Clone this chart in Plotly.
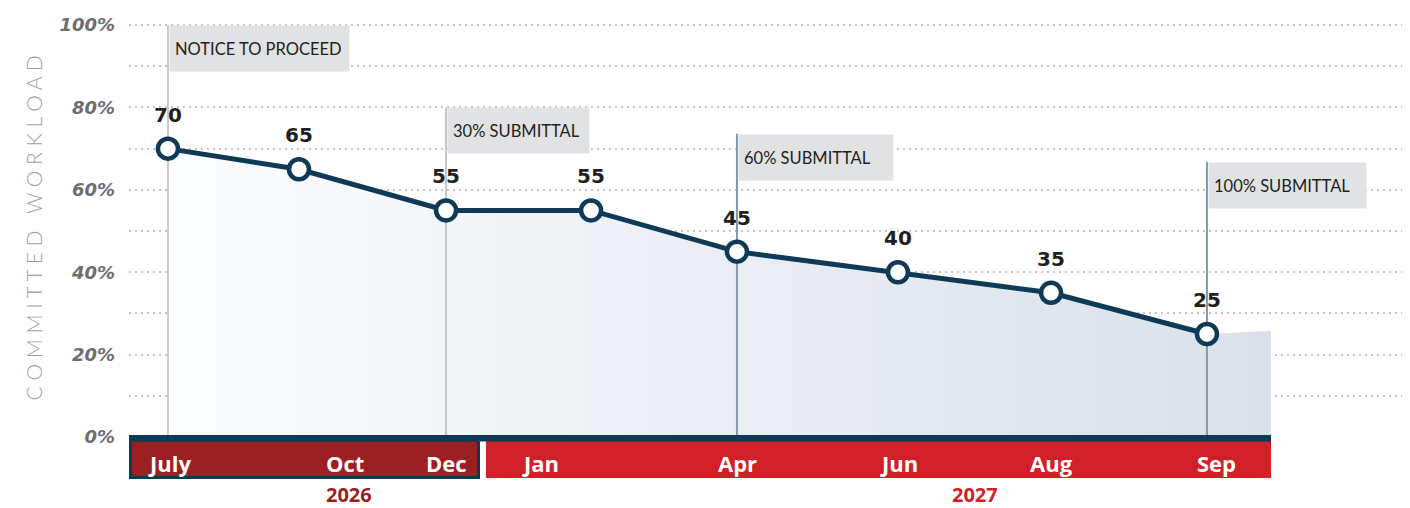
import plotly.graph_objects as go

# ---------------- data ----------------
# horizontal timeline position of each point (0-100 scale across the plot)
point_pos = [3.04, 13.27, 24.75, 36.07, 47.46, 60.03, 71.98, 84.15]
workload = [70, 65, 55, 55, 45, 40, 35, 25]

# shaded area continues slightly past the last point
area_pos = point_pos + [89.15]
area_vals = workload + [25.8]

# months on the timeline band
month_labels = ["July", "Oct", "Dec", "Jan", "Apr", "Jun", "Aug", "Sep"]
month_tick_pos = [3.04, 16.71, 24.75, 32.16, 47.46, 60.03, 71.98, 84.15]
month_label_pos = [3.2, 16.9, 24.75, 32.16, 47.5, 60.1, 72.0, 84.86]

years = ["2026", "2027"]
year_label_pos = [17.17, 66.04]
year_span_start = [0.0, 27.87]
year_span_end = [27.4, 89.15]

# milestones
milestones = ["NOTICE TO PROCEED", "30% SUBMITTAL", "60% SUBMITTAL", "100% SUBMITTAL"]
milestone_pos = [3.04, 24.75, 47.46, 84.15]
milestone_top = [100, 80, 73.6, 66.8]
milestone_box_w = [179, 141, 154, 157]
milestone_line_col = ["#c9cacc", "#c4c6c9", "#8598aa", "#8598aa"]

y_ticks = list(range(0, 101, 10))
y_ticktext = [f"{v}%" if v % 20 == 0 else "" for v in y_ticks]

# ---------------- styles ----------------
NAVY = "#0f3a57"
DARK_RED = "#9c1f22"
RED = "#d12028"
OFF = 8                      # page body margin
W, H = 1410 - OFF, 508 - OFF
L, T, B = 129 - OFF, 23 - OFF, 71
plot_h = H - T - B
Y_MAX = 100.5
BASE = 437                   # page pixel row of the 0 line

def py(pix):
    """page pixel row -> paper y"""
    return (BASE - pix) / plot_h

def px(pix):
    """page pixel column -> paper x"""
    return (pix - 129) / (W - L)

fig = go.Figure()

# shaded area with horizontal gradient
fig.add_trace(go.Scatter(
    x=area_pos, y=area_vals, mode="lines", line=dict(width=0),
    fill="tozeroy",
    fillgradient=dict(type="horizontal",
                      colorscale=[[0, "#fbfcfd"], [1, "#dae1ea"]]),
    hoverinfo="skip", showlegend=False,
))

# milestone vertical lines
for xp, top, col in zip(milestone_pos, milestone_top, milestone_line_col):
    fig.add_trace(go.Scatter(
        x=[xp, xp], y=[0, top], mode="lines",
        line=dict(color=col, width=2), hoverinfo="skip", showlegend=False,
    ))

# main line with markers
fig.add_trace(go.Scatter(
    x=point_pos, y=workload, mode="lines+markers",
    line=dict(color=NAVY, width=5),
    marker=dict(size=20, color="white", line=dict(color=NAVY, width=4.5)),
    showlegend=False, cliponaxis=False,
))

# value labels
for xp, v in zip(point_pos, workload):
    fig.add_annotation(x=xp, y=v, text=str(v), showarrow=False, yshift=34,
                       font=dict(family="DejaVu Sans", size=20, color="#231f20",
                                 weight="bold"))

# milestone boxes
for name, xp, top, bw in zip(milestones, milestone_pos, milestone_top, milestone_box_w):
    fig.add_annotation(x=xp, y=top, xref="x", yref="y", text=name, showarrow=False,
                       xanchor="left", yanchor="top", xshift=1,
                       width=bw - 10, height=45 - 10, borderpad=5,
                       align="left", valign="middle", bgcolor="#e1e2e4",
                       font=dict(family="Lato", size=16.5, color="#231f20"))

# timeline band shapes
fig.add_shape(type="rect", xref="paper", yref="paper",
              x0=px(130.5), x1=px(478.5),
              y0=py(477.5), y1=py(440),
              fillcolor=DARK_RED, line=dict(color=NAVY, width=3), layer="above")
fig.add_shape(type="rect", xref="paper", yref="paper",
              x0=year_span_start[1] / 100, x1=year_span_end[1] / 100,
              y0=py(478), y1=py(441),
              fillcolor=RED, line=dict(width=0), layer="above")
fig.add_shape(type="rect", xref="paper", yref="paper",
              x0=0, x1=year_span_end[1] / 100,
              y0=py(441.5), y1=py(435),
              fillcolor=NAVY, line=dict(width=0), layer="above")

# tick dots on the band
fig.add_trace(go.Scatter(
    x=month_tick_pos, y=[-0.25] * len(month_tick_pos), mode="markers",
    marker=dict(size=8, color=NAVY), cliponaxis=False,
    hoverinfo="skip", showlegend=False,
))

# month labels
for m, xp in zip(month_labels, month_label_pos):
    fig.add_annotation(x=xp, y=py(463), xref="x", yref="paper", text=m,
                       showarrow=False, yanchor="middle",
                       font=dict(family="Open Sans", size=22, color="white",
                                 weight="bold"))

# year labels
for yr, xp, col in zip(years, year_label_pos, [DARK_RED, RED]):
    fig.add_annotation(x=xp, y=py(494), xref="x", yref="paper", text=yr,
                       showarrow=False, yanchor="middle",
                       font=dict(family="Open Sans", size=20, color=col,
                                 weight="bold"))

# y axis title (letter spaced)
title = "COMMITTED WORKLOAD"
spaced = "   ".join(" ".join(ch for ch in w) for w in title.split(" "))
fig.add_annotation(x=px(18), y=py(228), xref="paper", yref="paper",
                   text=spaced, textangle=-90, showarrow=False,
                   font=dict(family="Lato", size=21, color="#9d9fa2", weight=300))

fig.update_layout(
    width=W, height=H,
    margin=dict(l=L, r=0, t=T, b=B),
    plot_bgcolor="white", paper_bgcolor="white",
    xaxis=dict(range=[0, 100], visible=False, fixedrange=True),
    yaxis=dict(range=[0, Y_MAX], tickvals=y_ticks, ticktext=y_ticktext,
               showgrid=True, gridcolor="#c4c5c7", gridwidth=1.5,
               griddash="2px,4px", zeroline=False, showline=False, ticks="",
               ticklabelstandoff=13,
               tickfont=dict(family="DejaVu Sans", size=18, color="#6d6e71",
                             weight="bold", style="italic"),
               fixedrange=True),
    showlegend=False,
)

fig.write_html("out.html")
